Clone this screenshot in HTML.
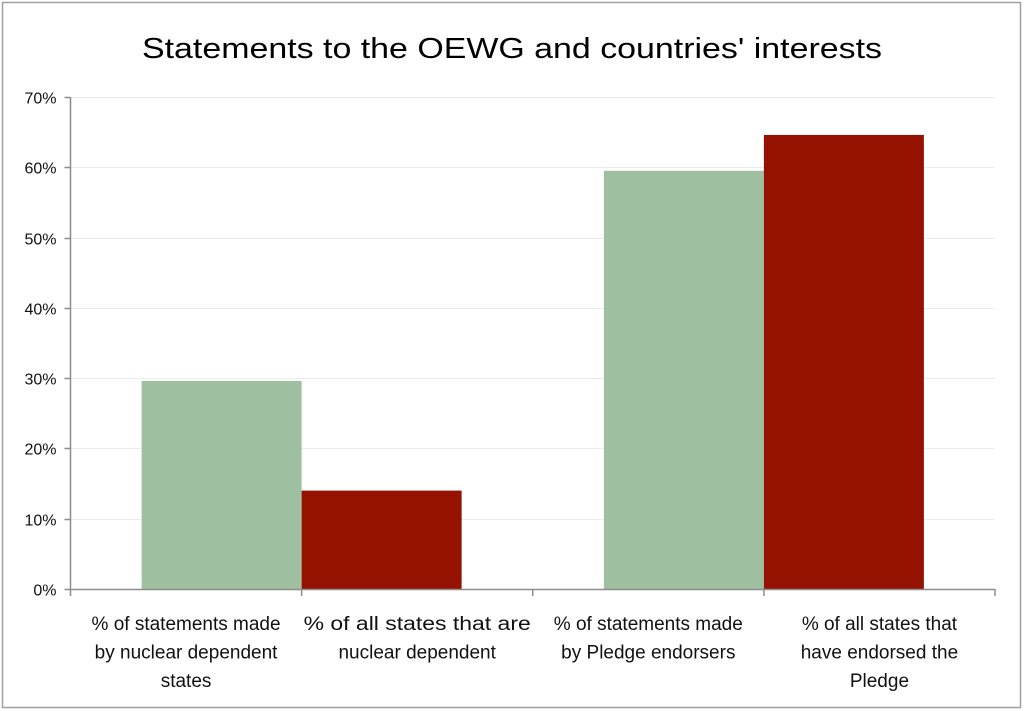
<!DOCTYPE html>
<html><head><meta charset="utf-8"><style>
html,body{margin:0;padding:0;background:#fff;}
svg{display:block;font-family:"Liberation Sans",sans-serif;}
</style></head><body>
<svg id="chart" width="1024" height="711">
<rect x="2.5" y="2.5" width="1018" height="705" fill="#fff" stroke="#a0a0a0" stroke-width="1.5"/>
<text x="512" y="58" text-anchor="middle" font-size="29" fill="#000" textLength="740" lengthAdjust="spacingAndGlyphs">Statements to the OEWG and countries' interests</text>
<g id="grid"></g><g id="bars"></g><g id="axes"></g>
</svg>
<script>
const categories = [
  ["% of statements made","by nuclear dependent","states"],
  ["% of all states that are","nuclear dependent"],
  ["% of statements made","by Pledge endorsers"],
  ["% of all states that","have endorsed the","Pledge"]
];
const values = [29.6, 14.0, 59.5, 64.6];
const colors = ["#9fc0a0", "#951100", "#9fc0a0", "#951100"];
const yTicks = [0,10,20,30,40,50,60,70];

const NS="http://www.w3.org/2000/svg";
const x0=70.5, x1=995, y0=589, yTop=97, yMax=70;
const y = v => y0 - (v/yMax)*(y0-yTop);
const catW=(x1-x0)/categories.length;
const barW=160;
function mk(tag, attrs, parent){const e=document.createElementNS(NS,tag);for(const k in attrs)e.setAttribute(k,attrs[k]);parent.appendChild(e);return e;}
const grid=document.getElementById('grid'), bars=document.getElementById('bars'), axes=document.getElementById('axes');
yTicks.forEach(t=>{
  const yy=Math.round(y(t))+0.5;
  if(t>0){const g=mk('line',{x1:x0,x2:x1,y1:yy,y2:yy,stroke:'#ececec','stroke-width':1},grid);
  
  }
  const tk=mk('line',{x1:x0-6,x2:x0,y1:yy,y2:yy,stroke:'#8c8c8c','stroke-width':1.5},axes);
  
  
  const tx=mk('text',{x:x0-14,y:yy+6,'text-anchor':'end','font-size':16,fill:'#111'},axes);
  tx.textContent=t+'%';
  
  
});
values.forEach((v,i)=>{
  const left=x0+i*catW;
  const bx = (i%2===0) ? left+catW-barW : left;
  const r=mk('rect',{x:bx,y:y(v),width:barW,height:y0-y(v),fill:colors[i]},bars);
  
  
});
const ya=mk('line',{x1:x0,x2:x0,y1:yTop,y2:y0,stroke:'#8c8c8c','stroke-width':1.5},axes);


const xa=mk('line',{x1:x0,x2:x1,y1:y0+0.5,y2:y0+0.5,stroke:'#8c8c8c','stroke-width':1.5},axes);


for(let i=0;i<=categories.length;i++){
  const xx=x0+i*catW;
  const t=mk('line',{x1:xx,x2:xx,y1:y0,y2:y0+7,stroke:'#8c8c8c','stroke-width':1.5},axes);
  
  
}
categories.forEach((lines,i)=>{
  const cx=x0+(i+0.5)*catW;
  const tx=mk('text',{x:cx,'text-anchor':'middle','font-size':19,fill:'#111'},axes);
  
  
  lines.forEach((ln,j)=>{
    const ts=mk('tspan',{x:cx,y:630+j*28.5},tx);
    ts.textContent=ln;
    const w = ln.length*9.6;
    if(w>catW-4){ts.setAttribute('textLength',catW-4);ts.setAttribute('lengthAdjust','spacingAndGlyphs');}
  });
});
</script>
</body></html>
